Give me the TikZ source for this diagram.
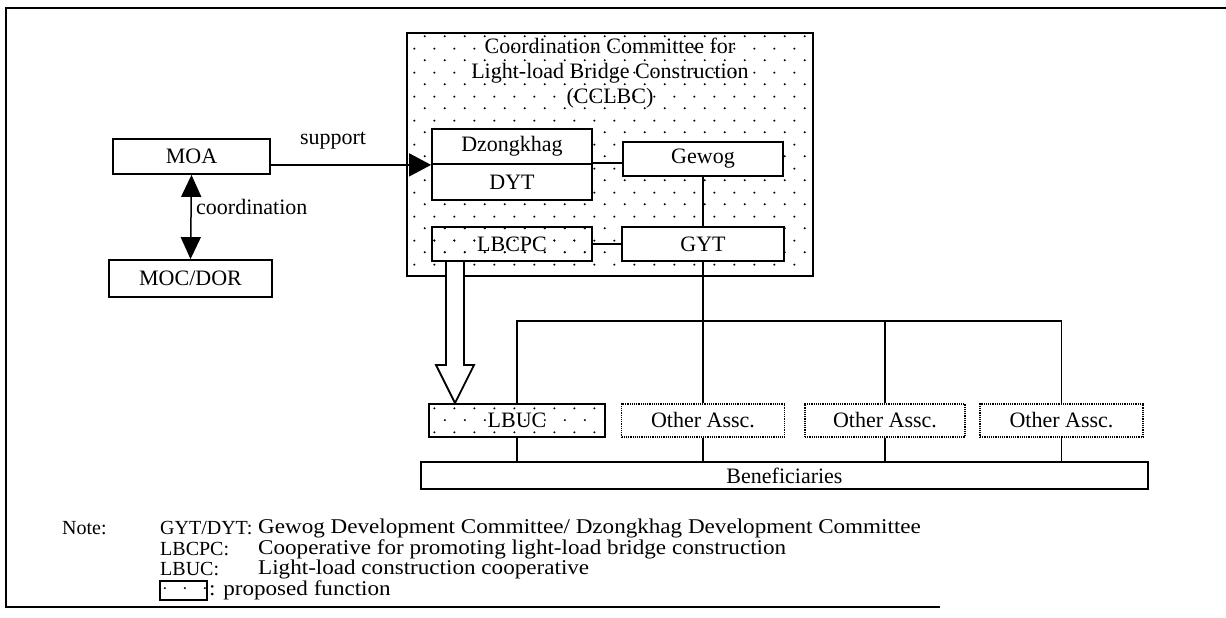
\documentclass[tikz,border=0pt]{standalone}
\usepackage{fontspec}
\setmainfont{Liberation Serif}
\newfontfamily\notefont[FakeStretch=1.1]{Liberation Serif}
\usetikzlibrary{arrows.meta,calc,patterns}

% sparse staggered dots for the proposed functions
\pgfdeclarepatternformonly{sparsedots}{\pgfpointorigin}{\pgfpoint{20pt}{24pt}}{\pgfpoint{20pt}{24pt}}{%
  \pgfpathcircle{\pgfpoint{5pt}{6pt}}{1.15pt}%
  \pgfpathcircle{\pgfpoint{15pt}{18pt}}{1.15pt}%
  \pgfusepath{fill}}

\tikzset{
  lbl/.style={font=\fontsize{22}{26}\selectfont},
  box/.style={draw, line width=1.8pt, inner sep=0pt, lbl},
  propbox/.style={box, line width=2pt, pattern=sparsedots},
  assoc/.style={draw, densely dotted, line width=1.2pt, inner sep=0pt, lbl},
  link/.style={line width=1.5pt},
  bigtip/.style={-{Triangle[length=22pt,width=23pt]}},
  cotip/.style={{Triangle[length=22pt,width=20pt]}-{Triangle[length=22pt,width=20pt]}},
  notekey/.style={font=\fontsize{20}{24}\selectfont, anchor=west, inner sep=0pt},
  note/.style={font=\notefont\fontsize{21}{24}\selectfont, anchor=west, inner sep=0pt},
}

\begin{document}
\begin{tikzpicture}[x=1pt,y=-1pt]
\useasboundingbox (0,0) rectangle (1226,618);

% outer frame
\draw[line width=1.4pt] (1226,8) -- (6,8) -- (6,607) -- (940,607);

% ministries
\node[box, minimum width=157pt, minimum height=35pt] (moa) at (191.5,156.5) {MOA};
\node[box, minimum width=163pt, minimum height=37pt] (mocdor) at (190.5,278.5) {MOC/DOR};

% coordination committee
\node[propbox, line width=2.8pt, minimum width=406pt, minimum height=243pt] (cclbc) at (610,154.5) {};
\node[lbl, align=center, inner sep=0pt, font=\fontsize{22}{25}\selectfont] (title) at (610,73.5)
  {Coordination Committee for\\Light-load Bridge Construction\\(CCLBC)};

\node[box, fill=white, minimum width=160pt, minimum height=35pt] (dzong) at (512,146.5) {Dzongkhag};
\node[box, fill=white, minimum width=160pt, minimum height=36pt] (dyt) at (512,182) {DYT};
\node[box, fill=white, minimum width=160pt, minimum height=34pt] (gewog) at (703,159) {Gewog};
\node[propbox, minimum width=160pt, minimum height=34pt] (lbcpc) at (512,244) {LBCPC};
\node[box, fill=white, minimum width=162pt, minimum height=34pt] (gyt) at (703,244) {GYT};

% associations
\node[propbox, minimum width=176pt, minimum height=33pt] (lbuc) at (517,420.5) {LBUC};
\node[assoc, minimum width=163pt, minimum height=33pt] (o1) at (703,420.5) {Other Assc.};
\node[assoc, minimum width=160pt, minimum height=33pt] (o2) at (885,420.5) {Other Assc.};
\node[assoc, minimum width=163pt, minimum height=33pt] (o3) at (1061.5,420.5) {Other Assc.};
\node[box, minimum width=727pt, minimum height=27pt] (bene) at (784.5,475.5) {Beneficiaries};

% support and coordination
\draw[link, bigtip] (moa.east |- dzong.south west) -- (dzong.south west);
\node[lbl, inner sep=0pt] (support) at (333,141) {support};
\draw[link] (dyt.north east) -- (dyt.north east -| gewog.west);
\draw[link, cotip] (moa.south) -- (mocdor.north);
\node[lbl, anchor=west, inner sep=0pt] (coord) at (196,207) {coordination};

% links inside the committee
\draw[link] (gewog.south) -- (gyt.north);
\draw[link] (lbcpc.east) -- (gyt.west);

% hollow arrow from LBCPC to LBUC
\coordinate (ha) at ($(lbcpc.south west)+(24,0)$);
\coordinate (hb) at (ha |- lbuc.north);
\draw[line width=1.8pt, fill=white, line join=miter]
  ($(ha)+(-9,0)$) -- ($(hb)+(-9,-38)$) -- ($(hb)+(-19,-38)$) -- (hb)
  -- ($(hb)+(19,-38)$) -- ($(hb)+(9,-38)$) -- ($(ha)+(9,0)$);

% distribution bus
\coordinate (bus) at ($(lbuc.north)+(0,-82)$);
\draw[link] (lbuc.north) -- (bus) -- (bus -| o3.north) -- (o3.north);
\draw[link] (o2.north) -- (o2.north |- bus);
\draw[link] (gyt.south) -- (o1.north);

% to beneficiaries
\foreach \n in {lbuc,o1,o2,o3}
  \draw[link] (\n.south) -- (\n.south |- bene.north);

% notes
\node[notekey] (notehd) at (62,528) {Note:};
\node[notekey] (k1) at (160,528) {GYT/DYT:};
\node[note] (v1) at (258,528) {Gewog Development Committee/ Dzongkhag Development Committee};
\node[notekey] (k2) at (160,549) {LBCPC:};
\node[note] (v2) at (258,549) {Cooperative for promoting light-load bridge construction};
\node[notekey] (k3) at (160,569) {LBUC:};
\node[note] (v3) at (258,569) {Light-load construction cooperative};
\node[propbox, line width=1.8pt, minimum width=47pt, minimum height=19pt] (legend) at (183.5,590.5) {};
\node[note] (v4) at (209,590) {: proposed function};
\end{tikzpicture}
\end{document}
